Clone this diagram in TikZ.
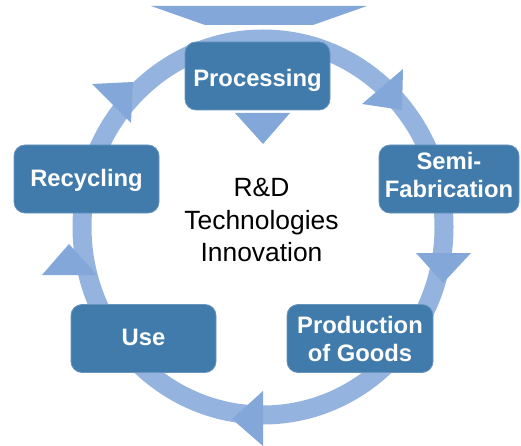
\documentclass[tikz,border=0pt]{standalone}
\usepackage{fontspec}
\setmainfont{Liberation Sans}
\definecolor{boxblue}{RGB}{65,123,171}
\definecolor{boxedge}{RGB}{105,148,190}
\definecolor{ringblue}{RGB}{149,179,223}
\definecolor{arrowblue}{RGB}{131,167,216}
\begin{document}
\begin{tikzpicture}[x=1pt,y=-1pt,
  stagebox/.style={draw=boxedge, line width=0.8pt, fill=boxblue, rounded corners=11pt,
    text=white, font=\fontsize{23.8}{28}\selectfont\bfseries, align=center,
    minimum width=145pt, minimum height=68pt, inner sep=0pt},
  ringline/.style={draw=ringblue, line width=19pt},
  arrowtri/.style={fill=arrowblue, draw=none},
  centertext/.style={font=\fontsize{26.4}{32.5}\selectfont, align=center, text=black}]
\useasboundingbox (0,0) rectangle (521,446);
% ring
\draw[ringline] (263,227) ellipse [x radius=181pt, y radius=188pt];
% top trapezoid
\fill[arrowtri] (151,6) -- (367,6) -- (313,25) -- (205,25) -- cycle;
% arrow heads on the ring
\fill[arrowtri] (92,84) -- (131,123) -- (133,82) -- cycle;
\fill[arrowtri] (403,69) -- (362,104) -- (402,110) -- cycle;
\fill[arrowtri] (416,253) -- (471,253) -- (443,283) -- cycle;
\fill[arrowtri] (263,391) -- (263,446) -- (232,419) -- cycle;
\fill[arrowtri] (42,275) -- (97,275) -- (69,244) -- cycle;
% triangle under Processing
\fill[arrowtri] (235,113) -- (290,113) -- (263,144) -- cycle;
% stages
\node[stagebox, text height=21.4pt, text depth=0pt] (proc) at (257.5,76) {Processing};
\node[stagebox, text height=15.4pt, text depth=0pt] (recy) at (86.5,179) {Recycling};
\node[stagebox, minimum width=140pt, text depth=9pt] (semi) at (449,179) {Semi-\\Fabrication};
\node[stagebox, text height=13pt, text depth=0pt] (use) at (143.5,338.5) {Use};
\node[stagebox, minimum width=146pt] (prod) at (360,338.5) {Production\\of Goods};
% centre text
\node[centertext] (rd) at (261.5,220) {R\&D\\Technologies\\Innovation};
\end{tikzpicture}
\end{document}
